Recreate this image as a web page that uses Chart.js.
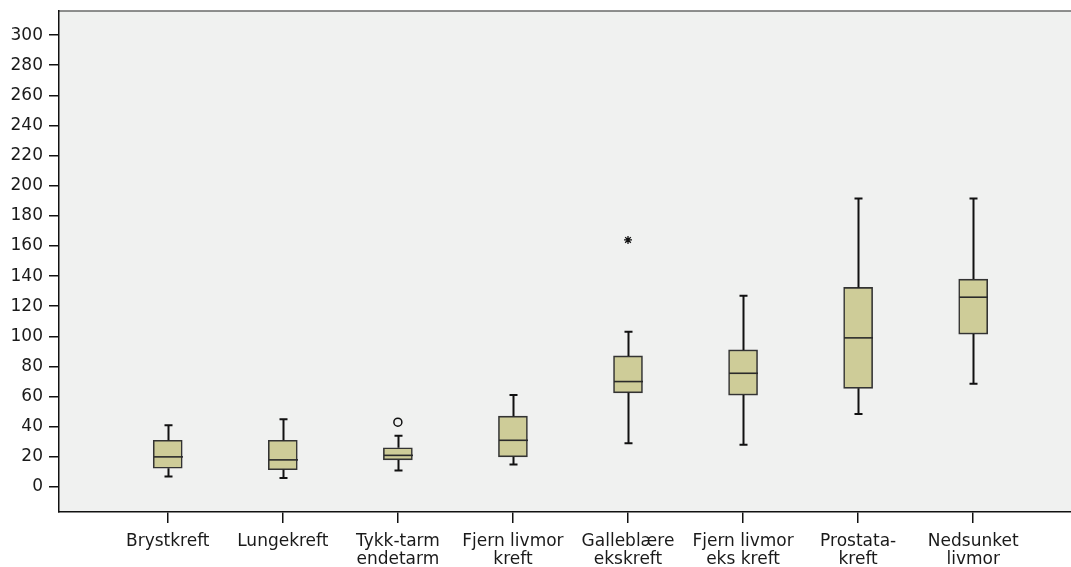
<!DOCTYPE html>
<html>
<head>
<meta charset="utf-8">
<script src="https://cdn.jsdelivr.net/npm/chart.js@4/dist/chart.umd.min.js"></script>
<style>
  html, body { margin: 0; padding: 0; background: #ffffff; }
  #wrap { width: 1071px; height: 567px; }
</style>
</head>
<body>
<div id="wrap"><canvas id="c" width="1071" height="567"></canvas></div>
<script>
// Diagnosis groups (x axis), two-line labels where wrapped
const categories = [
  ['Brystkreft'],
  ['Lungekreft'],
  ['Tykk-tarm', 'endetarm'],
  ['Fjern livmor', 'kreft'],
  ['Galleblære', 'ekskreft'],
  ['Fjern livmor', 'eks kreft'],
  ['Prostata-', 'kreft'],
  ['Nedsunket', 'livmor']
];

// Five-number summaries per group
const whiskerLow  = [7,    6,    11, 15, 29,   28,   48.5,  68.5];
const quart1      = [12.5, 11.5, 18, 20, 62.5, 61,   65.5,  101.5];
const medians     = [20,   18,   21, 31, 70,   75.5, 99,    126];
const quart3      = [31,   31,   26, 47, 87,   91,   132.5, 138];
const whiskerHigh = [41,   45,   34, 61, 103,  127,  191.5, 191.5];

// Outliers: group index, value, marker kind
const outlierGroup = [2, 4];
const outlierValue = [43, 164];
const outlierStyle = ['circle', 'star'];

// Y axis tick values
const yTicks = [0, 20, 40, 60, 80, 100, 120, 140, 160, 180, 200, 220, 240, 260, 280, 300];

const FONT = { family: 'Verdana, "DejaVu Sans", sans-serif', size: 17 };

// Drop the automatic edge padding so the plot area sits where the layout puts it
function noEdgePadding(scale) {
  scale.paddingTop = 0;
  scale.paddingBottom = 0;
  scale.paddingLeft = 0;
  scale.paddingRight = 0;
}

// Plot background and top frame line
const frame = {
  id: 'frame',
  beforeDraw(chart) {
    const { ctx, chartArea: a } = chart;
    ctx.save();
    ctx.fillStyle = '#f0f1f0';
    ctx.fillRect(a.left, a.top, a.right - a.left, a.bottom - a.top);
    ctx.strokeStyle = '#6a6a6a';
    ctx.lineWidth = 1.5;
    ctx.beginPath();
    ctx.moveTo(a.left, a.top);
    ctx.lineTo(a.right, a.top);
    ctx.stroke();
    ctx.restore();
  }
};

// Whiskers, caps and median lines drawn through the scales
const boxParts = {
  id: 'boxParts',
  afterDatasetsDraw(chart) {
    const { ctx, scales: { x, y } } = chart;
    const half = 14.5, cap = 4;
    ctx.save();
    ctx.lineCap = 'butt';
    categories.forEach((_, i) => {
      const cx = Math.round(x.getPixelForValue(i)) + 0.5;
      ctx.strokeStyle = '#111111';
      ctx.lineWidth = 2;
      ctx.beginPath();
      ctx.moveTo(cx, y.getPixelForValue(quart3[i]));
      ctx.lineTo(cx, y.getPixelForValue(whiskerHigh[i]));
      ctx.moveTo(cx, y.getPixelForValue(quart1[i]));
      ctx.lineTo(cx, y.getPixelForValue(whiskerLow[i]));
      const hi = y.getPixelForValue(whiskerHigh[i]);
      const lo = y.getPixelForValue(whiskerLow[i]);
      ctx.moveTo(cx - cap, hi);
      ctx.lineTo(cx + cap, hi);
      ctx.moveTo(cx - cap, lo);
      ctx.lineTo(cx + cap, lo);
      ctx.stroke();
      ctx.strokeStyle = '#2a2a2a';
      ctx.lineWidth = 1.6;
      const m = y.getPixelForValue(medians[i]);
      ctx.beginPath();
      ctx.moveTo(cx - half, m);
      ctx.lineTo(cx + half, m);
      ctx.stroke();
    });
    ctx.restore();
  }
};

new Chart(document.getElementById('c'), {
  type: 'bar',
  data: {
    datasets: [
      {
        type: 'bar',
        data: categories.map((_, i) => ({ x: i, y: [quart1[i], quart3[i]] })),
        backgroundColor: '#cecc98',
        borderColor: '#333333',
        borderWidth: 1.6,
        borderSkipped: false,
        barThickness: 29,
        order: 2
      },
      {
        type: 'scatter',
        data: outlierGroup.map((g, k) => ({ x: g, y: outlierValue[k] })),
        pointStyle: outlierStyle,
        pointRadius: [4, 4],
        pointBorderColor: '#111111',
        pointBackgroundColor: 'rgba(0,0,0,0)',
        pointBorderWidth: [1.5, 1.3],
        order: 1
      }
    ]
  },
  options: {
    responsive: false,
    animation: false,
    events: [],
    layout: { autoPadding: false, padding: { top: 11, right: 0, left: 0, bottom: 0 } },
    plugins: { legend: { display: false }, tooltip: { enabled: false } },
    scales: {
      x: {
        type: 'linear',
        min: -0.945,
        max: 7.85,
        offset: false,
        afterBuildTicks(scale) { scale.ticks = categories.map((_, i) => ({ value: i })); },
        afterFit(scale) { scale.height = 55; noEdgePadding(scale); },
        ticks: {
          autoSkip: false,
          maxRotation: 0,
          minRotation: 0,
          padding: 10,
          color: '#1a1a1a',
          font: { ...FONT, lineHeight: 1.05 },
          callback: (v) => categories[v]
        },
        grid: { offset: false, drawOnChartArea: false, drawTicks: true, tickLength: 11, color: '#111111', lineWidth: 1.5 },
        border: { display: true, color: '#111111', width: 1.5 }
      },
      y: {
        type: 'linear',
        min: -16.6,
        max: 316,
        afterBuildTicks(scale) { scale.ticks = yTicks.map(v => ({ value: v })); },
        afterFit(scale) { scale.width = 59; noEdgePadding(scale); },
        ticks: {
          padding: 6,
          color: '#1a1a1a',
          font: FONT,
          callback: (v) => String(v)
        },
        grid: { drawOnChartArea: false, drawTicks: true, tickLength: 10, color: '#111111', lineWidth: 1.5 },
        border: { display: true, color: '#111111', width: 1.5 }
      }
    }
  },
  plugins: [frame, boxParts]
});
</script>
</body>
</html>
